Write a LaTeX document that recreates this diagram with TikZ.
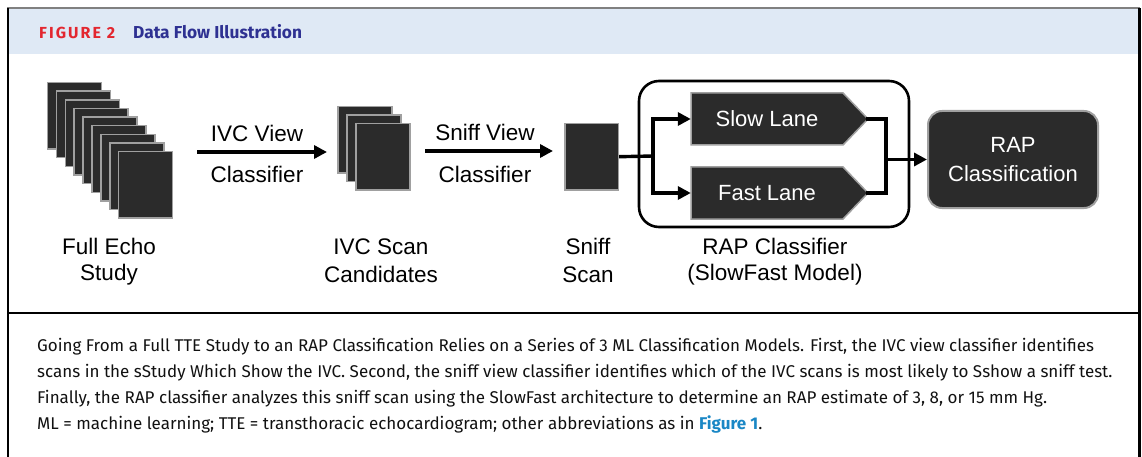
\documentclass[tikz,border=0pt]{standalone}
\usepackage{fontspec}
\setmainfont{Liberation Sans}
\newfontfamily\capfont{Fira Sans}
\usetikzlibrary{arrows.meta}
\definecolor{sheetfill}{HTML}{2B2B2B}
\definecolor{sheetedge}{HTML}{A0A0A0}
\definecolor{hdrbg}{HTML}{DFE9F5}
\definecolor{figred}{HTML}{E3262F}
\definecolor{figblue}{HTML}{2E3192}
\definecolor{linkblue}{HTML}{1A87C5}
\definecolor{captxt}{HTML}{111111}
\tikzset{
  sheet/.style={draw=sheetedge, line width=1.5pt, fill=sheetfill, minimum width=54pt, minimum height=66.5pt, inner sep=0pt, anchor=north west},
  lbl/.style={font=\fontsize{22.5}{24}\selectfont, text=black, inner sep=0pt},
  wlbl/.style={font=\fontsize{22}{24}\selectfont, text=white, inner sep=0pt, align=center},
  conn/.style={line width=3.4pt, black},
  arrowc/.style={conn, -{Triangle[length=13pt,width=13pt]}},
  lane/.style={draw=sheetedge, line width=1.5pt, fill=sheetfill},
  capline/.style={font=\capfont\fontsize{17}{19}\selectfont, text=captxt, anchor=base west, inner sep=0pt},
}
\begin{document}
\begin{tikzpicture}[x=1pt,y=-1pt]
\useasboundingbox (0,0) rectangle (1142,457);
% frame and header
\fill[hdrbg] (8,9) rectangle (1138,54);
\draw[gray, line width=2pt] (7,8) -- (1140,8);
\draw[black, line width=2.5pt] (8,8) -- (8,457);
\draw[black, line width=3pt] (1139,8) -- (1139,457);
\draw[black, line width=2pt] (8,313) -- (1139,313);
\node[anchor=base west, inner sep=0pt, text=figred, font=\capfont\bfseries\fontsize{16}{18}\selectfont\addfontfeature{LetterSpace=13}] (figlbl) at (39,38.5) {FIGURE 2};
\node[anchor=base west, inner sep=0pt, text=figblue, font=\capfont\bfseries\fontsize{17.3}{18}\selectfont] (figttl) at (133,38.5) {Data Flow Illustration};

% full echo stack
\foreach \i in {0,...,8} \node[sheet] (echo\i) at ({46.7+8.9*\i},{81.7+8.66*\i}) {};
% IVC stack
\foreach \i in {0,...,2} \node[sheet] (ivc\i) at ({337.3+8.85*\i},{106+8.35*\i}) {};
% sniff scan
\node[sheet, minimum width=53.4pt] (sniff) at (564.3,122.7) {};

% arrow 1
\coordinate (a1s) at (197,152);
\coordinate (a1e) at (327,152);
\draw[arrowc] (a1s) -- (a1e);
\node[lbl] (a1t) at (257,133) {IVC View};
\node[lbl] (a1b) at (257,174) {Classifier};
% arrow 2
\coordinate (a2s) at (425,151);
\coordinate (a2e) at (553,151);
\draw[arrowc] (a2s) -- (a2e);
\node[lbl] (a2t) at (485,132) {Sniff View};
\node[lbl] (a2b) at (485,174) {Classifier};

% bottom labels
\node[lbl] (fe1) at (109,246.5) {Full Echo};
\node[lbl] (fe2) at (109,274.5) {Study};
\node[lbl] (ic1) at (381,246.5) {IVC Scan};
\node[lbl] (ic2) at (381,274.5) {Candidates};
\node[lbl] (ss1) at (588,246.5) {Sniff};
\node[lbl] (ss2) at (588,274.5) {Scan};
\node[lbl] (rc1) at (775,246.5) {RAP Classifier};
\node[lbl] (rc2) at (775,274.5) {(SlowFast Model)};

% RAP classifier box
\node[draw=black, line width=2.6pt, rounded corners=20pt, minimum width=270pt, minimum height=146pt, inner sep=0pt] (rapbox) at (774,154) {};

% lanes
\draw[lane] (691,93) -- (843,93) -- (868,119) -- (843,145) -- (691,145) -- cycle;
\draw[lane] (691,167) -- (843,167) -- (868,193) -- (843,219) -- (691,219) -- cycle;
\node[wlbl, minimum width=152pt, minimum height=52pt] (slow) at (767,119) {Slow Lane};
\node[wlbl, minimum width=152pt, minimum height=52pt] (fast) at (767,193) {Fast Lane};
\coordinate (slowtip) at (868,119);
\coordinate (fasttip) at (868,193);

% RAP classification
\node[draw=sheetedge, line width=2pt, fill=sheetfill, rounded corners=14pt, minimum width=170pt, minimum height=97pt, inner sep=0pt] (rapc) at (1013,159.5) {};
\node[wlbl, font=\fontsize{22}{29}\selectfont] (rapct) at (1013,160) {RAP\\Classification};

% connectors
\coordinate (branch) at (653,156);
\draw[conn] (sniff.east) -- (branch);
\draw[arrowc] (branch) |- (slow.west);
\draw[arrowc] (branch) |- (fast.west);
\coordinate (merge) at (886,159.5);
\draw[conn, line cap=rect] (slowtip) -| (merge);
\draw[conn, line cap=rect] (fasttip) -| (merge);
\draw[arrowc] (merge) -- (rapc.west);

% caption
\node[capline] (cap1) at (37,351) {Going From a Full TTE Study to an RAP Classification Relies on a Series of 3 ML Classification Models. First, the IVC view classifier identifies};
\node[capline] (cap2) at (37,377) {scans in the sStudy Which Show the IVC. Second, the sniff view classifier identifies which of the IVC scans is most likely to Sshow a sniff test.};
\node[capline] (cap3) at (37,403) {Finally, the RAP classifier analyzes this sniff scan using the SlowFast architecture to determine an RAP estimate of 3, 8, or 15 mm Hg.};
\node[capline] (cap4) at (37,429) {ML = machine learning; TTE = transthoracic echocardiogram; other abbreviations as in {\bfseries\color{linkblue}Figure 1}.};
\end{tikzpicture}
\end{document}
